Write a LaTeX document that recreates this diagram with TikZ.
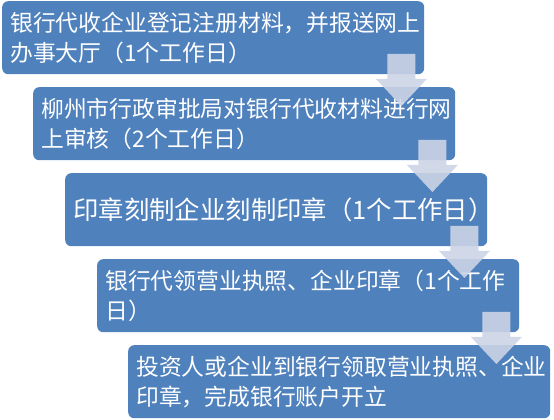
\documentclass[tikz,border=0pt]{standalone}
\usepackage{fontspec}
\setmainfont{Noto Sans CJK SC}
\usepackage{tikz}
\usetikzlibrary{calc}
\definecolor{boxblue}{RGB}{79,129,189}
\definecolor{arrowgray}{RGB}{204,212,230}
\tikzset{
  stepbox/.style={rectangle,rounded corners=6pt,fill=boxblue,text=white,
    anchor=north west,minimum width=422pt,minimum height=73pt,
    text width=406pt,inner xsep=8pt,inner ysep=0pt,align=left,
    font=\fontsize{22.8}{30}\selectfont},
  downarrow/.style={fill=arrowgray,fill opacity=0.9}
}
\begin{document}
\begin{tikzpicture}[x=1pt,y=1pt]
      \useasboundingbox (0,0) rectangle (554,420);
      \node[stepbox](b1) at (2,419) {银行代收企业登记注册材料，并报送网上\\办事大厅（1个工作日）};
      \node[stepbox](b2) at (33,333) {柳州市行政审批局对银行代收材料进行网\\上审核（2个工作日）};
      \node[stepbox,font=\fontsize{25.4}{30}\selectfont](b3) at (65,247) {印章刻制企业刻制印章（1个工作日）};
      \node[stepbox](b4) at (97,161) {银行代领营业执照、企业印章（1个工作\\日）};
      \node[stepbox](b5) at (128,75) {投资人或企业到银行领取营业执照、企业\\印章，完成银行账户开立};
      % arrows between the steps
      \fill[downarrow] let \p1=(b1.south east), \p2=(b2.north) in
        (\x1-37,\y1+20.5)--(\x1-9,\y1+20.5)--(\x1-9,\y1-4.5)--(\x1+2.5,\y1-4.5)--(\x1-23,\y2-19)--(\x1-48.5,\y1-4.5)--(\x1-37,\y1-4.5)--cycle;
      \fill[downarrow] let \p1=(b2.south east), \p2=(b3.north) in
        (\x1-37,\y1+20.5)--(\x1-9,\y1+20.5)--(\x1-9,\y1-4.5)--(\x1+2.5,\y1-4.5)--(\x1-23,\y2-19)--(\x1-48.5,\y1-4.5)--(\x1-37,\y1-4.5)--cycle;
      \fill[downarrow] let \p1=(b3.south east), \p2=(b4.north) in
        (\x1-37,\y1+20.5)--(\x1-9,\y1+20.5)--(\x1-9,\y1-4.5)--(\x1+2.5,\y1-4.5)--(\x1-23,\y2-19)--(\x1-48.5,\y1-4.5)--(\x1-37,\y1-4.5)--cycle;
      \fill[downarrow] let \p1=(b4.south east), \p2=(b5.north) in
        (\x1-37,\y1+20.5)--(\x1-9,\y1+20.5)--(\x1-9,\y1-4.5)--(\x1+2.5,\y1-4.5)--(\x1-23,\y2-19)--(\x1-48.5,\y1-4.5)--(\x1-37,\y1-4.5)--cycle;
    \end{tikzpicture}
\end{document}
